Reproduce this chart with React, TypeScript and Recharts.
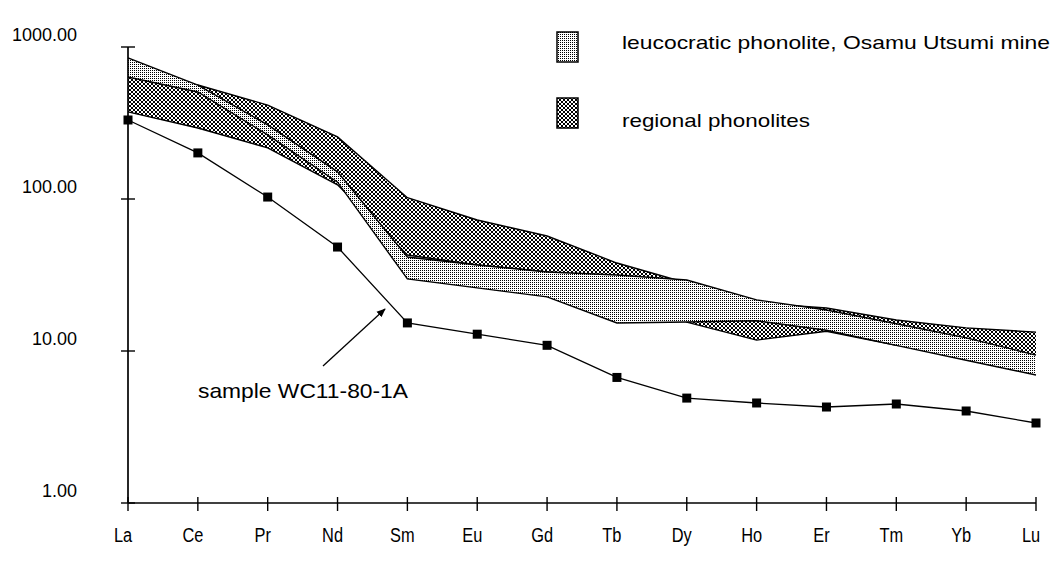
import { ComposedChart, Area, Line, XAxis, YAxis } from 'recharts'

// chondrite-normalised REE
const elements = ['La', 'Ce', 'Pr', 'Nd', 'Sm', 'Eu', 'Gd', 'Tb', 'Dy', 'Ho', 'Er', 'Tm', 'Yb', 'Lu']
const sampleWC11 = [331, 201, 103, 48.3, 15.3, 12.9, 10.9, 6.7, 4.9, 4.55, 4.28, 4.48, 4.03, 3.36]
const leucoHigh = [847, 562, 307, 151, 41.5, 36.8, 33.1, 31.6, 29.3, 21.7, 18.6, 15.1, 12.2, 9.4]
const leucoLow = [635, 506, 264, 129, 29.8, 26.0, 22.7, 15.3, 15.5, 15.8, 13.7, 10.9, 8.7, 6.95]
const regionalHigh = [635, 562, 415, 256, 102, 72.8, 57.1, 37.9, 28.0, 20.7, 19.2, 16.0, 14.2, 13.3]
const regionalLow = [374, 293, 217, 124, 42.8, 36.8, 33.1, 30.7, 15.5, 11.8, 13.5, 10.9, 10.2, 9.4]
const yTicks = [1, 10, 100, 1000]

const legendItems = [
  { label: 'leucocratic phonolite, Osamu Utsumi mine', fill: 'url(#stipple)', width: 428 },
  { label: 'regional phonolites', fill: 'url(#hatch)', width: 188 },
]

const data = elements.map((el, i) => ({
  el,
  sample: sampleWC11[i],
  leuco: [leucoLow[i], leucoHigh[i]],
  regional: [regionalLow[i], regionalHigh[i]],
}))

const sans = "'Liberation Sans', Arial, Helvetica, sans-serif"

function SquareDot(props: any) {
  const { cx, cy, index } = props
  if (cx == null || cy == null) return <g key={index} />
  return <rect key={index} x={cx - 4.5} y={cy - 4.5} width={9} height={9} fill="#000" />
}

// element labels are set in a condensed face in the original
function ElementTick({ x, y, payload }: any) {
  return (
    <g>
      <line x1={x} x2={x} y1={y - 6} y2={y + 8} stroke="#000" strokeWidth={1.4} />
      <text
        transform={`translate(${x - 5}, ${y + 32}) scale(0.78, 1)`}
        textAnchor="middle"
        dominantBaseline="central"
        fontSize={21}
        fontFamily={sans}
        fill="#000"
      >
        {payload.value}
      </text>
    </g>
  )
}

function ValueTick({ x, y, payload }: any) {
  return (
    <g>
      <line x1={x - 7} x2={x + 7} y1={y} y2={y} stroke="#000" strokeWidth={1.4} />
      <text x={x - 51} y={y - 12} textAnchor="end" dominantBaseline="central" fontSize={18} fontFamily={sans} fill="#000">
        {Number(payload.value).toFixed(2)}
      </text>
    </g>
  )
}

export default function App() {
  return (
    <div style={{ position: 'absolute', left: 0, top: 0, width: 1055, height: 561, background: '#fff' }}>
      <ComposedChart width={1055} height={561} data={data} margin={{ top: 47, right: 19, bottom: 13, left: 0 }}>
        <defs>
          <pattern id="stipple" width={2} height={2} patternUnits="userSpaceOnUse">
            <rect width={2} height={2} fill="#fff" />
            <rect width={1} height={1} fill="#000" />
          </pattern>
          <pattern id="hatch" width={4} height={4} patternUnits="userSpaceOnUse">
            <rect width={4} height={4} fill="#fff" />
            <rect x={0} y={0} width={1} height={1} fill="#000" />
            <rect x={1} y={1} width={1} height={1} fill="#000" />
            <rect x={2} y={2} width={1} height={1} fill="#000" />
            <rect x={3} y={3} width={1} height={1} fill="#000" />
            <rect x={3} y={0} width={1} height={1} fill="#000" />
            <rect x={2} y={1} width={1} height={1} fill="#000" />
            <rect x={1} y={2} width={1} height={1} fill="#000" />
            <rect x={0} y={3} width={1} height={1} fill="#000" />
          </pattern>
          <marker id="arrowHead" viewBox="0 0 10 10" refX={9} refY={5} markerWidth={7} markerHeight={7} orient="auto">
            <path d="M0,1 L10,5 L0,9 z" fill="#000" />
          </marker>
        </defs>

        <XAxis
          dataKey="el"
          type="category"
          scale="point"
          padding={{ left: 0, right: 0 }}
          height={45}
          axisLine={{ stroke: '#000', strokeWidth: 1.5 }}
          tickLine={false}
          tickSize={0}
          tickMargin={0}
          interval={0}
          tick={<ElementTick />}
        />
        <YAxis
          scale="log"
          domain={[1, 1000]}
          ticks={yTicks}
          allowDataOverflow
          width={128}
          axisLine={{ stroke: '#000', strokeWidth: 1.7 }}
          tickLine={false}
          tickSize={0}
          tickMargin={0}
          tick={<ValueTick />}
        />

        <Area
          dataKey="regional"
          type="linear"
          fill="url(#hatch)"
          fillOpacity={1}
          stroke="#000"
          strokeWidth={1.4}
          isAnimationActive={false}
        />
        <Area
          dataKey="leuco"
          type="linear"
          fill="url(#stipple)"
          fillOpacity={1}
          stroke="#000"
          strokeWidth={1.4}
          isAnimationActive={false}
        />
        <Line
          dataKey="sample"
          type="linear"
          stroke="#000"
          strokeWidth={1.3}
          dot={SquareDot}
          activeDot={false}
          isAnimationActive={false}
        />

        {/* legend, top right */}
        {legendItems.map((item, i) => (
          <g key={item.label}>
            <rect x={557} y={32 + i * 66} width={21} height={30} fill={item.fill} stroke="#000" strokeWidth={1.5} />
            <text
              x={622}
              y={42 + i * 78}
              dominantBaseline="central"
              fontSize={19}
              fontFamily={sans}
              fill="#000"
              textLength={item.width}
              lengthAdjust="spacingAndGlyphs"
            >
              {item.label}
            </text>
          </g>
        ))}

        {/* sample annotation */}
        <line x1={323} y1={366} x2={385} y2={309} stroke="#000" strokeWidth={1.3} markerEnd="url(#arrowHead)" />
        <text x={198} y={398} fontSize={21} fontFamily={sans} fill="#000" textLength={210} lengthAdjust="spacingAndGlyphs">
          sample WC11-80-1A
        </text>
      </ComposedChart>
    </div>
  )
}
